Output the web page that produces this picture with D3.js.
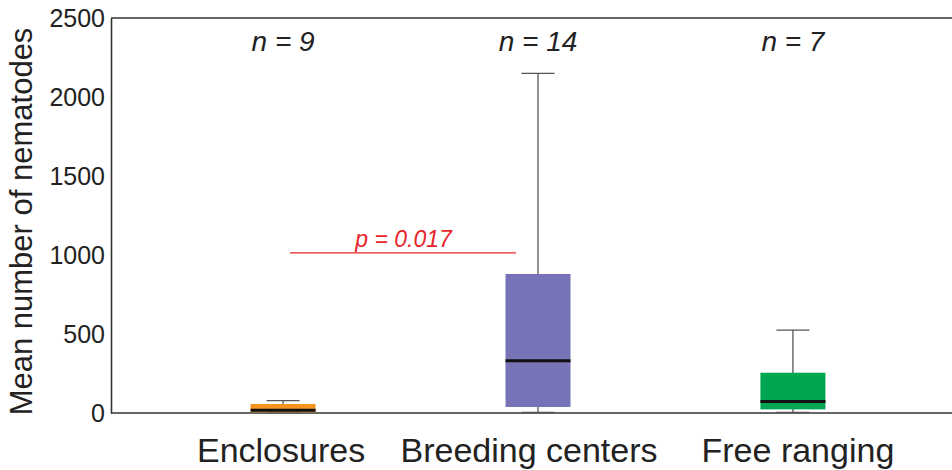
<!DOCTYPE html>
<html>
<head>
<meta charset="utf-8">
<script src="https://cdn.jsdelivr.net/npm/d3@7"></script>
<style>
  body { margin: 0; background: #fff; }
  svg { display: block; font-family: "Liberation Sans", Arial, sans-serif; }
</style>
</head>
<body>
<div class="chart"></div>
<script>
// data
const groups = ["Enclosures", "Breeding centers", "Free ranging"]
const sizes = [9, 14, 7]
const mins = [0, 0, 0]
const q1s = [5, 38, 23]
const medians = [18, 331, 72]
const q3s = [57, 880, 255]
const maxs = [78, 2150, 525]
const colors = ["#f7941d", "#7673b7", "#00a651"]
const yTicks = [0, 500, 1000, 1500, 2000, 2500]
const pLabel = "p = 0.017"
const pValue = 1013

const width = 952, height = 470
const margin = { top: 18, right: 0, bottom: 57, left: 111 }

const svg = d3.select(".chart")
  .append("svg")
  .attr("width", width)
  .attr("height", height)

// x is a point scale, range runs a little past the right edge like the original
const x = d3.scalePoint()
  .domain(groups)
  .range([margin.left, 965])
  .padding(0.675)

const y = d3.scaleLinear()
  .domain([0, 2500])
  .range([height - margin.bottom, margin.top])

// y axis, no tick marks
const yAxis = svg.append("g")
  .attr("transform", `translate(${margin.left},0)`)
  .call(d3.axisLeft(y).tickValues(yTicks).tickFormat(d3.format("d")).tickSize(0).tickPadding(6))
yAxis.select(".domain").attr("stroke", "#333").attr("stroke-width", 1.6)
yAxis.selectAll("text")
  .attr("font-size", 25)
  .attr("fill", "#222")
  .attr("font-family", "Liberation Sans, Arial, sans-serif")

// bottom and top frame lines
svg.append("line")
  .attr("x1", margin.left).attr("x2", width)
  .attr("y1", y(0)).attr("y2", y(0))
  .attr("stroke", "#333").attr("stroke-width", 1.6)
svg.append("line")
  .attr("x1", margin.left).attr("x2", width)
  .attr("y1", y(2500)).attr("y2", y(2500))
  .attr("stroke", "#333").attr("stroke-width", 1.6)

// category labels
svg.append("g")
  .selectAll("text")
  .data(groups)
  .join("text")
  .attr("x", (d, i) => x(d) + [-2, -9, 5][i])
  .attr("y", 462)
  .attr("text-anchor", "middle")
  .attr("font-size", 34)
  .attr("fill", "#222")
  .text(d => d)

// y title
svg.append("text")
  .attr("transform", `translate(32,${(y(0) + y(2500)) / 2 + 6}) rotate(-90)`)
  .attr("text-anchor", "middle")
  .attr("font-size", 31)
  .attr("fill", "#222")
  .text("Mean number of nematodes")

// n labels
svg.append("g")
  .selectAll("text")
  .data(groups)
  .join("text")
  .attr("x", d => x(d))
  .attr("y", 51)
  .attr("text-anchor", "middle")
  .attr("font-size", 28)
  .attr("font-style", "italic")
  .attr("fill", "#222")
  .text((d, i) => `n = ${sizes[i]}`)

const boxW = 65, capW = 33

const boxes = svg.append("g")
  .selectAll("g")
  .data(groups)
  .join("g")

// whiskers
boxes.append("line")
  .attr("x1", d => x(d)).attr("x2", d => x(d))
  .attr("y1", (d, i) => y(mins[i])).attr("y2", (d, i) => y(maxs[i]))
  .attr("stroke", "#555").attr("stroke-width", 1.3)
boxes.append("line")
  .attr("x1", d => x(d) - capW / 2).attr("x2", d => x(d) + capW / 2)
  .attr("y1", (d, i) => y(maxs[i])).attr("y2", (d, i) => y(maxs[i]))
  .attr("stroke", "#555").attr("stroke-width", 1.3)
boxes.append("line")
  .attr("x1", d => x(d) - capW / 2).attr("x2", d => x(d) + capW / 2)
  .attr("y1", (d, i) => y(mins[i]) - 0.5).attr("y2", (d, i) => y(mins[i]) - 0.5)
  .attr("stroke", "#555").attr("stroke-width", 1.3)

// box
boxes.append("rect")
  .attr("x", d => x(d) - boxW / 2)
  .attr("width", boxW)
  .attr("y", (d, i) => y(q3s[i]))
  .attr("height", (d, i) => y(q1s[i]) - y(q3s[i]))
  .attr("fill", (d, i) => colors[i])

// median
boxes.append("line")
  .attr("x1", d => x(d) - boxW / 2).attr("x2", d => x(d) + boxW / 2)
  .attr("y1", (d, i) => y(medians[i])).attr("y2", (d, i) => y(medians[i]))
  .attr("stroke", "#111").attr("stroke-width", 3)

// significance line between enclosures and breeding centers
svg.append("line")
  .attr("x1", x(groups[0]) + 7)
  .attr("x2", x(groups[1]) - 22)
  .attr("y1", y(pValue)).attr("y2", y(pValue))
  .attr("stroke", "#e8262a").attr("stroke-width", 1.3)
svg.append("text")
  .attr("x", (x(groups[0]) + x(groups[1])) / 2 - 7)
  .attr("y", y(pValue) - 6)
  .attr("text-anchor", "middle")
  .attr("font-size", 23)
  .attr("font-style", "italic")
  .attr("fill", "#e8262a")
  .text(pLabel)
</script>
</body>
</html>
